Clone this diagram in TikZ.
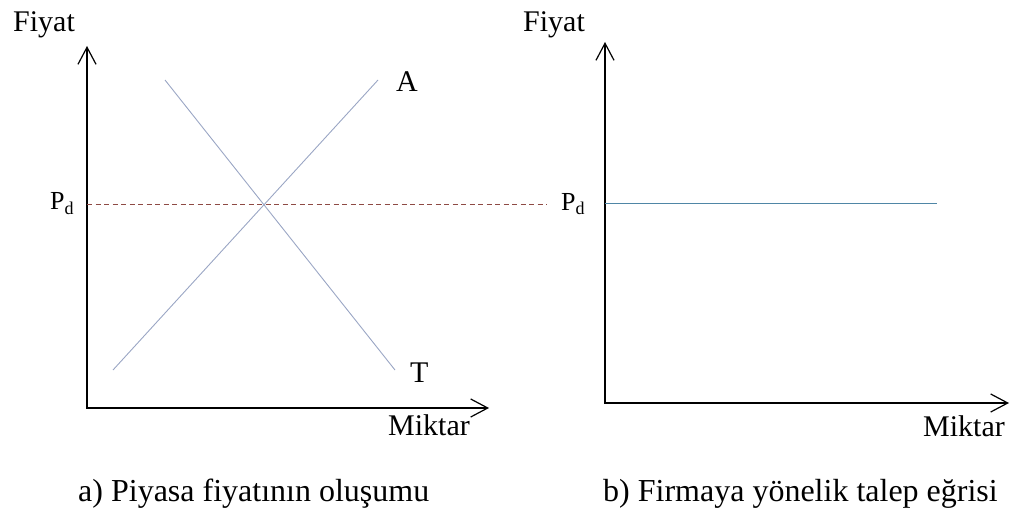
\documentclass[tikz,border=0pt]{standalone}
\usepackage{fontspec}
\setmainfont{Liberation Serif}
\usetikzlibrary{arrows.meta, positioning}

\definecolor{curveblue}{HTML}{9AA6C4}
\definecolor{pricecol}{HTML}{4F86A6}
\definecolor{dashred}{HTML}{8E4A44}

\begin{document}
\begin{tikzpicture}[x=1pt, y=-1pt,
    axis/.style={line width=1.3pt, line join=miter,
        {Straight Barb[length=17pt, width=18pt, line width=1.2pt]}-{Straight Barb[length=17pt, width=18pt, line width=1.2pt]}},
    curve/.style={line width=0.9pt, color=curveblue},
    lbl/.style={inner sep=0pt, anchor=base west, font=\fontsize{30}{32}\selectfont},
    small/.style={inner sep=0pt, anchor=base west, font=\fontsize{26}{28}\selectfont},
    capt/.style={inner sep=0pt, anchor=base west, font=\fontsize{32}{34}\selectfont}]
    \useasboundingbox (0,0) rectangle (1015,516);

    % Left panel: axes
    \coordinate (ytop1) at (87,46);
    \coordinate (o1) at (87,408);
    \coordinate (xend1) at (489,408);
    \draw[axis] (ytop1) -- (o1) -- (xend1);
    \node[lbl] (fiyat1) at (13,32) {Fiyat};
    \node[lbl] (miktar1) at (388,435) {Miktar};

    % Supply and demand
    \coordinate (s0) at (113,370);
    \coordinate (s1) at (378,80);
    \coordinate (d0) at (165,80);
    \coordinate (d1) at (395,370);
    \draw[curve] (s0) -- (s1);
    \draw[curve] (d0) -- (d1);
    \node[lbl] (lblA) at (396,92) {A};
    \node[lbl] (lblT) at (410,382) {T};

    % Market price
    \coordinate (pdl) at (87,204);
    \coordinate (pdr) at (547,204);
    \draw[dashred, line width=0.8pt, dash pattern=on 5pt off 3.5pt] (pdl) -- (pdr);
    \node[small] (pd1) at (50,209) {P\raisebox{-5pt}{\fontsize{18}{18}\selectfont d}};

    % Right panel: axes
    \coordinate (ytop2) at (605,42);
    \coordinate (o2) at (605,403);
    \coordinate (xend2) at (1009,403);
    \draw[axis] (ytop2) -- (o2) -- (xend2);
    \node[lbl] (fiyat2) at (523,32) {Fiyat};
    \node[lbl] (miktar2) at (923,436) {Miktar};

    % Firm demand
    \coordinate (fl) at (605,203);
    \coordinate (fr) at (937,203);
    \draw[pricecol, line width=0.9pt] (fl) -- (fr);
    \node[small] (pd2) at (561,210) {P\raisebox{-5pt}{\fontsize{18}{18}\selectfont d}};

    % Captions
    \node[capt] (capA) at (78,501) {a) Piyasa fiyatının oluşumu};
    \node[capt] (capB) at (603,501) {b) Firmaya yönelik talep eğrisi};
\end{tikzpicture}
\end{document}
